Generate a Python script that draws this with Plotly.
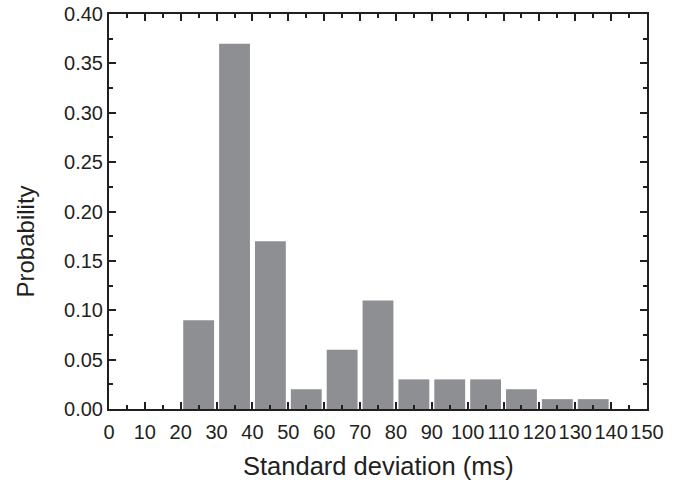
import plotly.graph_objects as go

bin_centers = [25, 35, 45, 55, 65, 75, 85, 95, 105, 115, 125, 135]
probabilities = [0.09, 0.37, 0.17, 0.02, 0.06, 0.11, 0.03, 0.03, 0.03, 0.02, 0.01, 0.01]
x_ticks = list(range(0, 151, 10))
y_ticks = [0.0, 0.05, 0.10, 0.15, 0.20, 0.25, 0.30, 0.35, 0.40]
x_title = "Standard deviation (ms)"
y_title = "Probability"

fig = go.Figure()
fig.add_trace(go.Bar(
    x=bin_centers, y=probabilities, width=8.6,
    marker=dict(color="#8e8f92", line=dict(width=0)),
))

font = "Liberation Sans, Arial, sans-serif"
ink = "#231f20"
fig.update_layout(
    width=685, height=483,
    margin=dict(l=109, r=38, t=14, b=74),
    paper_bgcolor="white", plot_bgcolor="white",
    showlegend=False,
    font=dict(family=font, color=ink, size=19),
)
fig.update_xaxes(
    range=[0, 150], tickvals=x_ticks, ticktext=[str(v) for v in x_ticks],
    automargin=False,
    showgrid=False, zeroline=False,
    showline=True, linecolor=ink, linewidth=2, mirror="allticks",
    ticks="inside", ticklen=7, tickwidth=2, tickcolor=ink,
    minor=dict(dtick=5, ticks="inside", ticklen=4, tickwidth=2, tickcolor=ink, showgrid=False),
    tickfont=dict(size=20),
    ticklabelstandoff=4,
)
fig.update_yaxes(
    range=[0, 0.4], tickvals=y_ticks, ticktext=[f"{v:.2f}" for v in y_ticks],
    automargin=False,
    showgrid=False, zeroline=False,
    showline=True, linecolor=ink, linewidth=2, mirror="allticks",
    ticks="inside", ticklen=7, tickwidth=2, tickcolor=ink,
    minor=dict(dtick=0.025, ticks="inside", ticklen=4, tickwidth=2, tickcolor=ink, showgrid=False),
    tickfont=dict(size=20),
    ticklabelstandoff=0,
)
fig.add_annotation(
    text=x_title, xref="paper", yref="paper", x=0.5, y=0,
    xanchor="center", yanchor="middle", yshift=-57, showarrow=False,
    font=dict(size=25.5, family=font, color=ink),
)
fig.add_annotation(
    text=y_title, xref="paper", yref="paper", x=0, y=0.5, textangle=-90,
    xanchor="center", yanchor="middle", xshift=-84, yshift=-30, showarrow=False,
    font=dict(size=24, family=font, color=ink),
)
fig.write_html("out.html", config={"displayModeBar": False},
               post_script="document.body.style.margin='0';")
